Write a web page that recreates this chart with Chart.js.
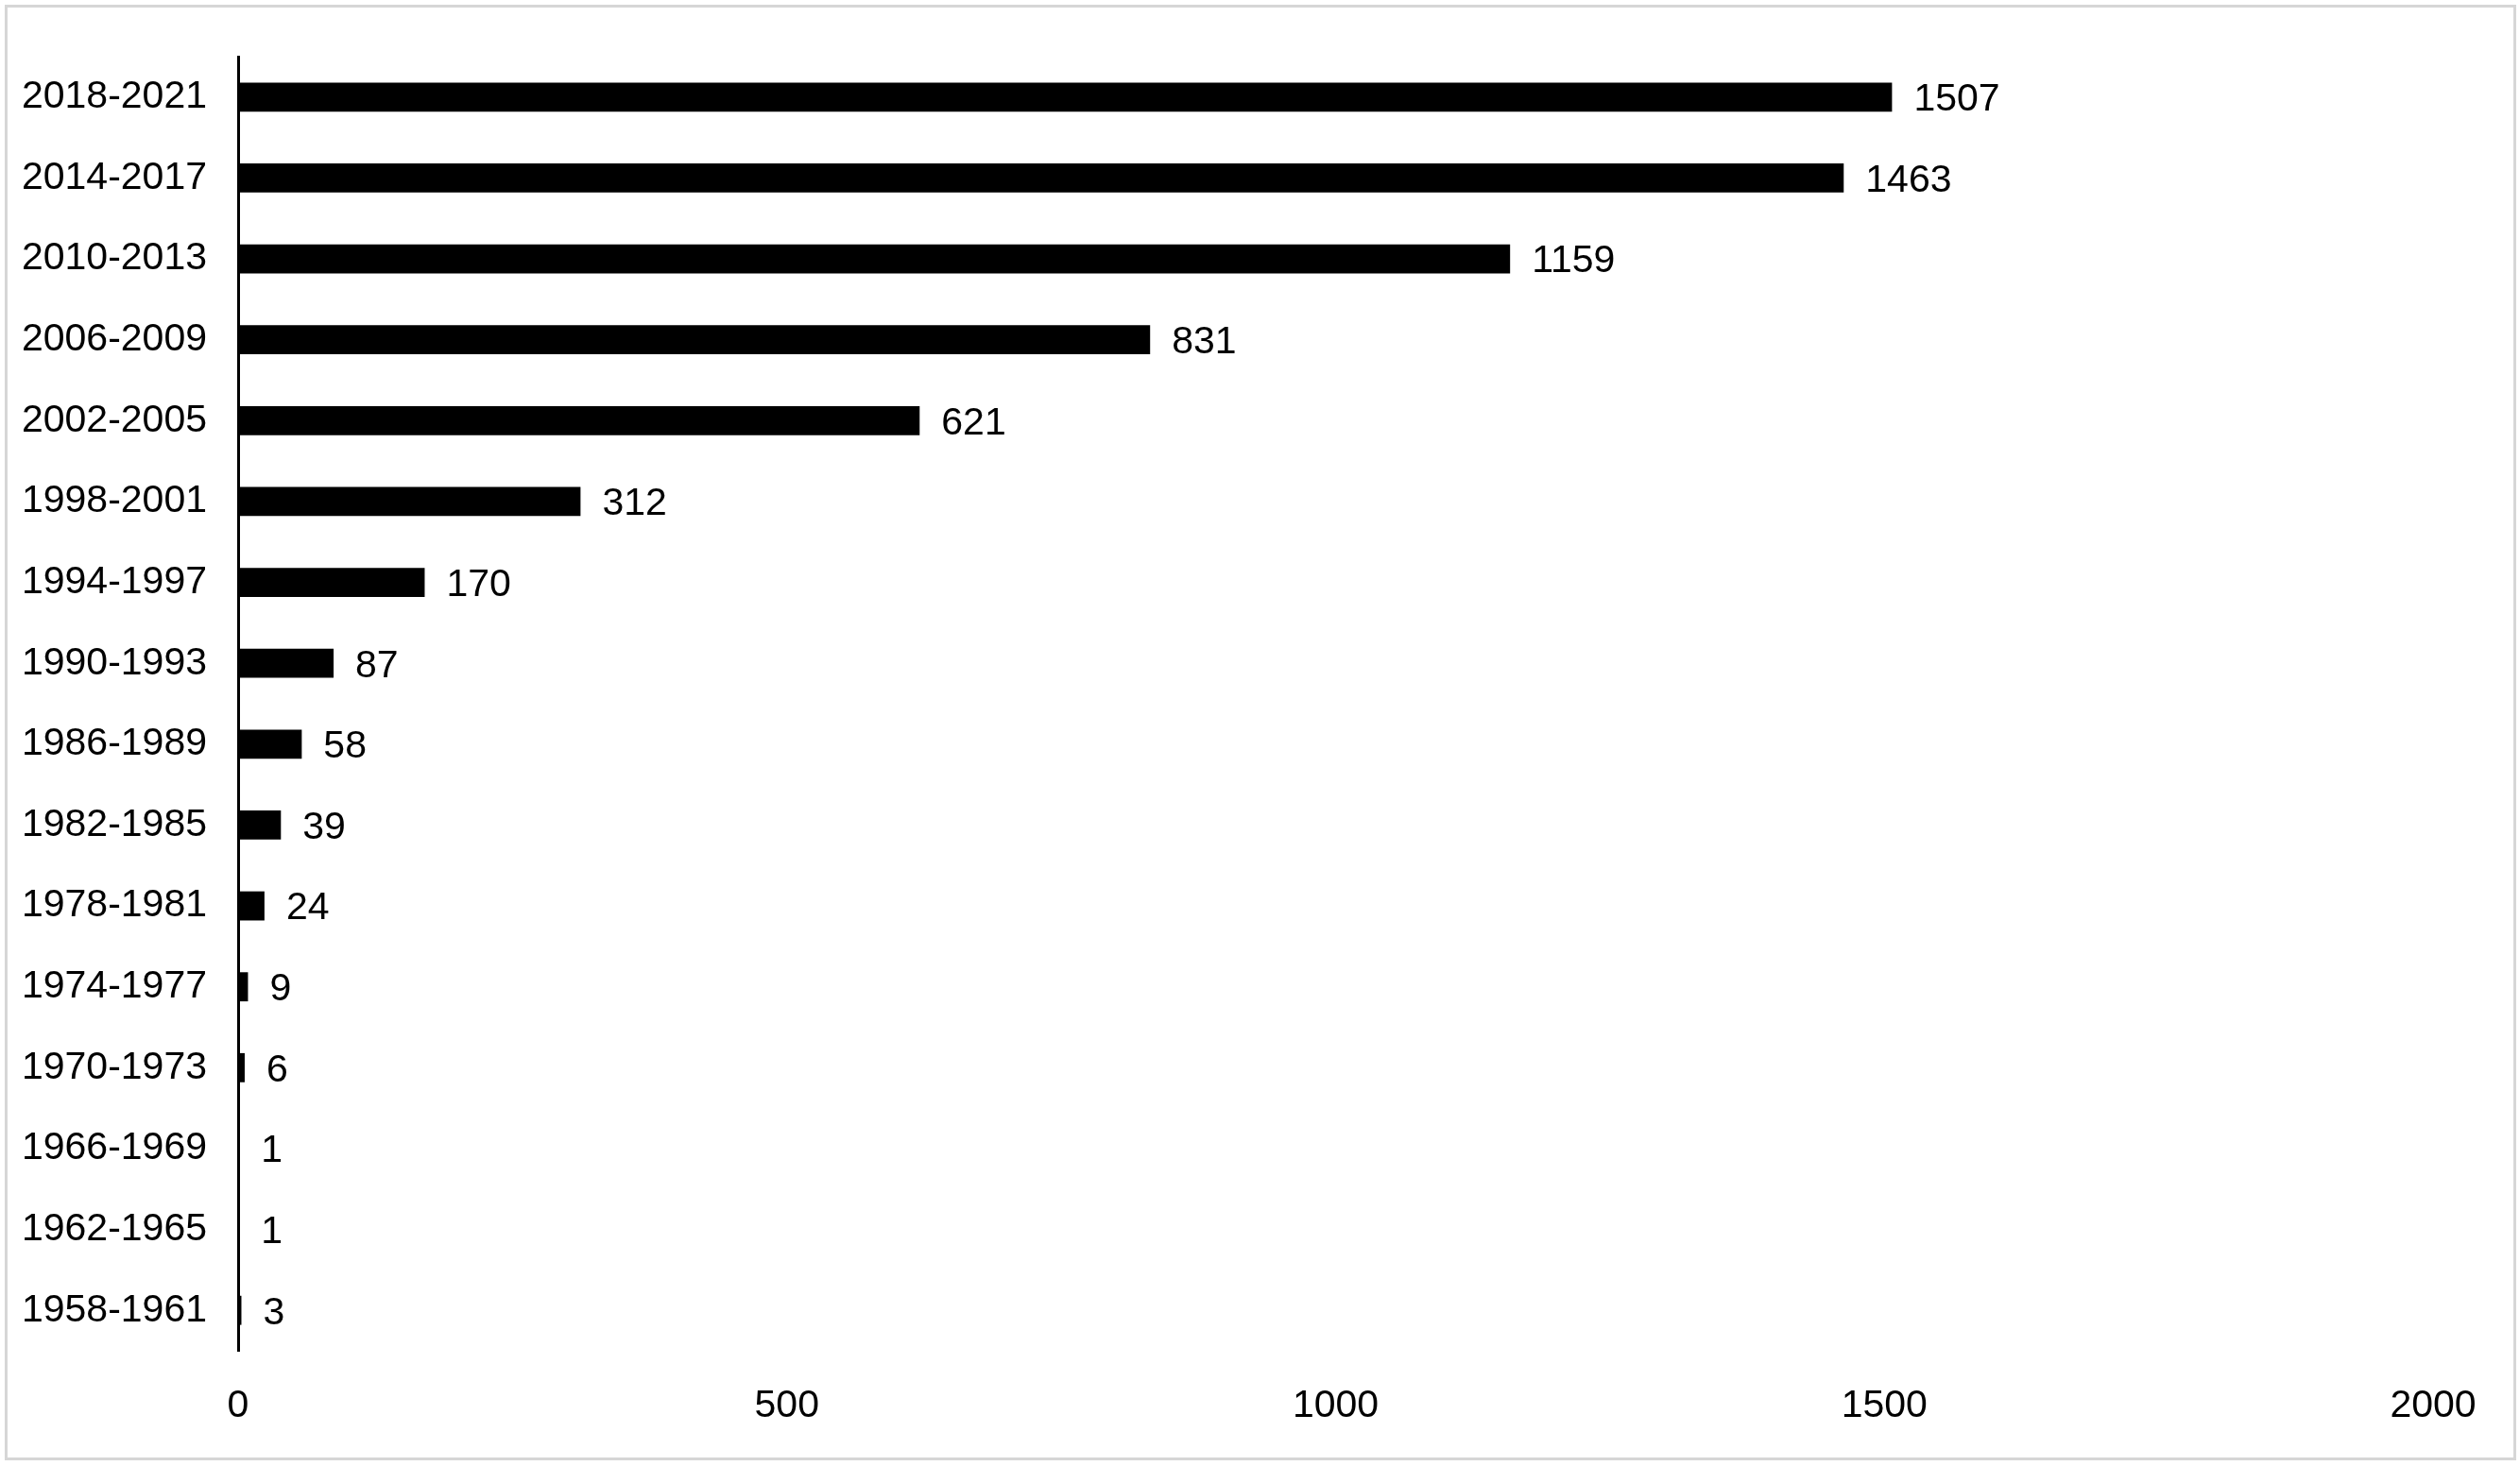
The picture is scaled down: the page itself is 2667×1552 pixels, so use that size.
<!DOCTYPE html>
<html>
<head>
<meta charset="utf-8">
<script src="https://cdn.jsdelivr.net/npm/chart.js@4.4.1/dist/chart.umd.min.js"></script>
<style>
  html, body { margin: 0; padding: 0; background: #ffffff; }
  #wrap { position: relative; width: 2667px; height: 1552px; }
  #frame {
    position: absolute; left: 5px; top: 5px; width: 2652px; height: 1535px;
    border: 3px solid #d6d6d6; pointer-events: none;
  }
  canvas { position: absolute; left: 0; top: 0; }
</style>
</head>
<body>
<div id="wrap">
  <canvas id="periodChart" width="2667" height="1552"></canvas>
  <div id="frame"></div>
</div>
<script>
// ---------------------------
// Data
// ---------------------------
const periods = [
  "2018-2021", "2014-2017", "2010-2013", "2006-2009", "2002-2005", "1998-2001",
  "1994-1997", "1990-1993", "1986-1989", "1982-1985", "1978-1981", "1974-1977",
  "1970-1973", "1966-1969", "1962-1965", "1958-1961"
];
const counts = [1507, 1463, 1159, 831, 621, 312, 170, 87, 58, 39, 24, 9, 6, 1, 1, 3];
const xTicks = [0, 500, 1000, 1500, 2000];

const FONT = "'Liberation Sans', Arial, sans-serif";

// value labels at the end of each bar
const valueLabels = {
  id: "valueLabels",
  afterDatasetsDraw(chart) {
    const ctx = chart.ctx;
    const meta = chart.getDatasetMeta(0);
    ctx.save();
    ctx.fillStyle = "#000000";
    ctx.font = "41px " + FONT;
    ctx.textAlign = "left";
    ctx.textBaseline = "middle";
    meta.data.forEach((bar, i) => {
      ctx.fillText(String(counts[i]), bar.x + 23, bar.y + 3);
    });
    ctx.restore();
  },
};

function buildChart() {
  const el = document.getElementById("periodChart");
  if (!el) return;
  const ctx = el.getContext("2d");

  new Chart(ctx, {
    type: "bar",
    data: {
      labels: periods,
      datasets: [
        {
          data: counts,
          backgroundColor: "#000000",
          borderWidth: 0,
          barPercentage: 0.36,
          categoryPercentage: 1.0,
        },
      ],
    },
    options: {
      indexAxis: "y",
      responsive: false,
      animation: false,
      layout: { padding: { top: 60, right: 92, bottom: 0, left: 0 } },
      plugins: {
        legend: { display: false },
        tooltip: { enabled: false },
      },
      scales: {
        x: {
          min: 0,
          max: 2000,
          afterBuildTicks: (scale) => {
            scale.ticks = xTicks.map((v) => ({ value: v }));
          },
          afterFit: (scale) => { scale.height = 122; },
          grid: { display: false, drawTicks: false },
          border: { display: false },
          ticks: {
            color: "#000000",
            font: { family: FONT, size: 41 },
            padding: 34,
            maxRotation: 0,
            callback: (value) => String(value),
          },
        },
        y: {
          afterFit: (scale) => { scale.width = 252; },
          grid: { display: false, drawTicks: false },
          border: { display: true, color: "#000000", width: 3 },
          ticks: {
            color: "#000000",
            font: { family: FONT, size: 41 },
            padding: 33,
          },
        },
      },
    },
    plugins: [valueLabels],
  });
}

document.addEventListener("DOMContentLoaded", buildChart);
</script>
</body>
</html>
